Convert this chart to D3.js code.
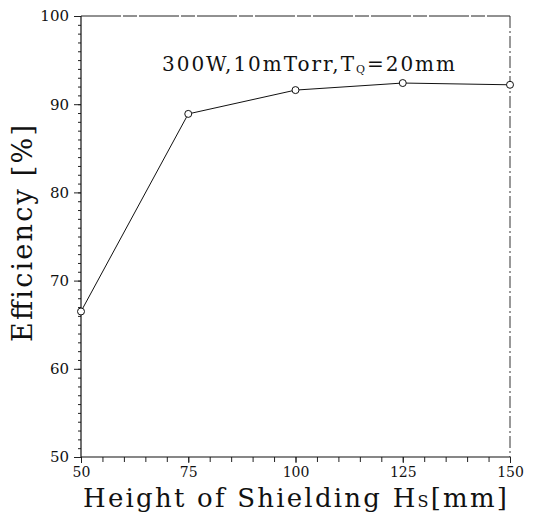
<!DOCTYPE html>
<html>
<head>
<meta charset="utf-8">
<script src="https://cdn.jsdelivr.net/npm/d3@7"></script>
<style>
  body { margin: 0; background: #fff; }
  text { fill: #111; }
</style>
</head>
<body>
<svg id="chart" width="538" height="513"></svg>
<script>
var heights = [50, 75, 100, 125, 150]
var efficiency = [66.5, 88.9, 91.6, 92.4, 92.2]
var xTicks = [50, 75, 100, 125, 150]
var yTicks = [50, 60, 70, 80, 90, 100]

var svg = d3.select('#chart')
var mLeft = 81, mRight = 510, mTop = 16, mBottom = 457

var x = d3.scaleLinear().domain([50, 150]).range([mLeft, mRight])
var y = d3.scaleLinear().domain([50, 100]).range([mBottom, mTop])

var serif = '"DejaVu Serif", "Liberation Serif", serif'

// frame: top and right edges look broken in the scan
svg.append('line')
    .attr('x1', mLeft).attr('x2', mRight).attr('y1', mTop).attr('y2', mTop)
    .attr('stroke', '#222').attr('stroke-width', 1)
    .attr('stroke-dasharray', '40,2,14,2')
svg.append('line')
    .attr('x1', mRight).attr('x2', mRight).attr('y1', mTop).attr('y2', mBottom)
    .attr('stroke', '#333').attr('stroke-width', 1)
    .attr('stroke-dasharray', '12,3,2,3')

// y axis (minor ticks every 1, major every 10)
svg.append('g')
    .attr('transform', 'translate(' + mLeft + ',0)')
    .call(d3.axisLeft(y).tickValues(d3.range(50, 101, 1)).tickSize(3).tickFormat(''))
var yMajor = svg.append('g')
    .attr('transform', 'translate(' + mLeft + ',0)')
    .call(d3.axisLeft(y).tickValues(yTicks).tickSize(7).tickPadding(5).tickFormat(d3.format('d')))
yMajor.selectAll('text')
    .attr('font-family', serif).attr('font-size', 15).attr('fill', '#111')

// x axis (ticks every 5)
svg.append('g')
    .attr('transform', 'translate(0,' + mBottom + ')')
    .call(d3.axisBottom(x).tickValues(d3.range(50, 151, 5)).tickSize(5).tickFormat(''))
var xMajor = svg.append('g')
    .attr('transform', 'translate(0,' + mBottom + ')')
    .call(d3.axisBottom(x).tickValues(xTicks).tickSize(6).tickPadding(4).tickFormat(d3.format('d')))
xMajor.selectAll('text')
    .attr('font-family', serif).attr('font-size', 14).attr('fill', '#111')
svg.selectAll('.domain').remove()
svg.selectAll('.tick line').attr('stroke', '#222')

// solid left and bottom axis lines
svg.append('line')
    .attr('x1', mLeft).attr('x2', mLeft).attr('y1', mTop).attr('y2', mBottom)
    .attr('stroke', '#111').attr('stroke-width', 1.2)
svg.append('line')
    .attr('x1', mLeft).attr('x2', mRight).attr('y1', mBottom).attr('y2', mBottom)
    .attr('stroke', '#111').attr('stroke-width', 1.2)

// data line
var line = d3.line()
    .x(function (d, i) { return x(heights[i]) })
    .y(function (d) { return y(d) })

svg.append('path')
    .datum(efficiency)
    .attr('d', line)
    .attr('fill', 'none')
    .attr('stroke', '#111')
    .attr('stroke-width', 1)

svg.selectAll('circle.pt')
    .data(efficiency)
    .enter().append('circle')
    .attr('class', 'pt')
    .attr('cx', function (d, i) { return x(heights[i]) })
    .attr('cy', function (d) { return y(d) })
    .attr('r', 3.5)
    .attr('fill', 'white')
    .attr('stroke', '#111')
    .attr('stroke-width', 1)

// annotation
var note = svg.append('text')
    .attr('x', 162).attr('y', 71)
    .attr('font-family', serif).attr('font-size', 20)
    .attr('textLength', 293).attr('lengthAdjust', 'spacing')
note.append('tspan').text('300W,10mTorr,T')
note.append('tspan').attr('font-size', 11).attr('dy', 2).text('Q')
note.append('tspan').attr('dy', -2).text('=20mm')

// x title
var xt = svg.append('text')
    .attr('x', 83).attr('y', 507)
    .attr('font-family', serif).attr('font-size', 26)
    .attr('textLength', 424).attr('lengthAdjust', 'spacing')
xt.append('tspan').text('Height of Shielding H')
xt.append('tspan').attr('font-size', 16).text('S')
xt.append('tspan').text('[mm]')

// y title
svg.append('text')
    .attr('transform', 'translate(32,342) rotate(-90)')
    .attr('font-family', serif).attr('font-size', 27)
    .attr('textLength', 217).attr('lengthAdjust', 'spacing')
    .text('Efficiency [%]')
</script>
</body>
</html>
